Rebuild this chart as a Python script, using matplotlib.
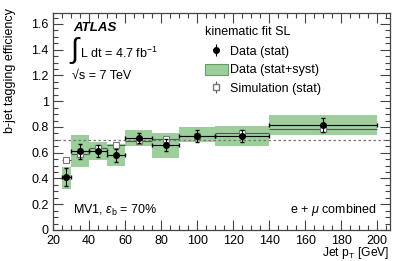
import matplotlib
matplotlib.use("Agg")
import matplotlib.pyplot as plt
from matplotlib.patches import Patch
from matplotlib.ticker import MultipleLocator
from matplotlib.legend_handler import HandlerErrorbar
import numpy as np

plt.rcParams['font.family'] = ['Liberation Sans', 'DejaVu Sans']
plt.rcParams['mathtext.fontset'] = 'custom'
plt.rcParams['mathtext.rm'] = 'Liberation Sans'
plt.rcParams['mathtext.it'] = 'Liberation Sans:italic'

bin_lo = [25, 30, 40, 50, 60, 75, 90, 110, 140]
bin_hi = [30, 40, 50, 60, 75, 90, 110, 140, 200]
data_eff = [0.41, 0.61, 0.615, 0.58, 0.715, 0.66, 0.73, 0.73, 0.815]
data_stat = [0.07, 0.06, 0.045, 0.05, 0.038, 0.045, 0.045, 0.045, 0.055]
band_lo = [0.32, 0.49, 0.545, 0.50, 0.65, 0.56, 0.68, 0.65, 0.74]
band_hi = [0.49, 0.74, 0.68, 0.67, 0.777, 0.75, 0.80, 0.81, 0.89]
sim_eff = [0.54, 0.59, 0.635, 0.66, 0.69, 0.71, 0.73, 0.755, 0.785]
sim_stat = [0.008, 0.008, 0.008, 0.008, 0.01, 0.012, 0.012, 0.015, 0.02]

lo = np.array(bin_lo, float)
hi = np.array(bin_hi, float)
ctr = (lo + hi) / 2
xerr = (hi - lo) / 2

FS = 9

fig = plt.figure(figsize=(4.07, 2.61), dpi=100)
ax = fig.add_axes([0.130, 0.119, 0.828, 0.831])

green = '#9ccf9c'
for l, h, bl, bh in zip(lo, hi, band_lo, band_hi):
    ax.fill_between([l, h], [bl, bl], [bh, bh], color=green, lw=0, zorder=1)

ax.axhline(0.7, color='#777777', ls=(0, (2, 2)), lw=0.9, zorder=2)

ax.errorbar(ctr, sim_eff, xerr=xerr, yerr=sim_stat, fmt='s', ms=4.5,
            mfc='white', mec='#777777', mew=0.8, ecolor='#555555',
            elinewidth=0.8, capsize=0, zorder=3)
ax.errorbar(ctr, data_eff, xerr=xerr, yerr=data_stat, fmt='o', ms=4,
            color='black', ecolor='black', elinewidth=0.8, capsize=1.2,
            zorder=4)

ax.set_xlim(20, 207)
ax.set_ylim(0, 1.685)
ax.xaxis.set_major_locator(MultipleLocator(20))
ax.xaxis.set_minor_locator(MultipleLocator(5))
ax.yaxis.set_minor_locator(MultipleLocator(0.05))
ax.set_yticks([0, 0.2, 0.4, 0.6, 0.8, 1.0, 1.2, 1.4, 1.6])
ax.set_yticklabels(['0', '0.2', '0.4', '0.6', '0.8', '1', '1.2', '1.4', '1.6'])
ax.tick_params(which='both', direction='in', top=True, right=True,
               labelsize=FS, color='#444444', width=0.8)
ax.tick_params(axis='x', which='major', length=7, pad=3.5)
ax.tick_params(axis='y', which='major', length=7, pad=3)
ax.tick_params(which='minor', length=3.5)
for s in ax.spines.values():
    s.set_color('#444444')
    s.set_linewidth(0.9)

ax.set_xlabel(r'Jet p$_\mathrm{T}$ [GeV]', fontsize=8.7, loc='right')
ax.xaxis.set_label_coords(1.0, -0.07)
ax.xaxis.label.set_va('top')
ax.set_ylabel('b-jet tagging efficiency', fontsize=FS, loc='top')
ax.yaxis.set_label_coords(-0.11, 1.025)

ax.text(0.059, 0.93, 'ATLAS', transform=ax.transAxes, fontsize=9.5,
        fontweight='bold', fontstyle='italic', va='center')
ax.text(0.047, 0.826, r'$\int$', transform=ax.transAxes, fontsize=21,
        va='center')
ax.text(0.08, 0.815, r'L dt = 4.7 fb$^{-1}$', transform=ax.transAxes,
        fontsize=FS, va='center')
ax.text(0.056, 0.71, '\u221As = 7 TeV', transform=ax.transAxes,
        fontsize=FS, va='center')
ax.text(0.059, 0.092, r'MV1, $\varepsilon_\mathrm{b}$ = 70%',
        transform=ax.transAxes, fontsize=FS, va='center')
ax.text(0.961, 0.092, r'e + $\mu$ combined', transform=ax.transAxes,
        fontsize=FS, va='center', ha='right')

h_band = Patch(facecolor=green, edgecolor='#6a9a6a', lw=0.8)
e_data = ax.errorbar([], [], yerr=[], fmt='o', ms=4, color='black',
                     elinewidth=0.8)
e_sim = ax.errorbar([], [], yerr=[], fmt='s', ms=4.5, mfc='white',
                    mec='#777777', ecolor='#555555', elinewidth=0.8)
leg = ax.legend([e_data, h_band, e_sim],
                ['Data (stat)', 'Data (stat+syst)', 'Simulation (stat)'],
                title='kinematic fit SL', loc='upper left',
                bbox_to_anchor=(0.45, 0.94), frameon=False, fontsize=FS,
                title_fontsize=FS, handlelength=1.85, handleheight=1.0,
                handletextpad=0.2, borderpad=0,
                labelspacing=0.45, borderaxespad=0, alignment='left',
                handler_map={type(e_data): HandlerErrorbar(xerr_size=0, yerr_size=0.45)})
leg._legend_box.sep = 5

fig.savefig('out.png', dpi=100)
